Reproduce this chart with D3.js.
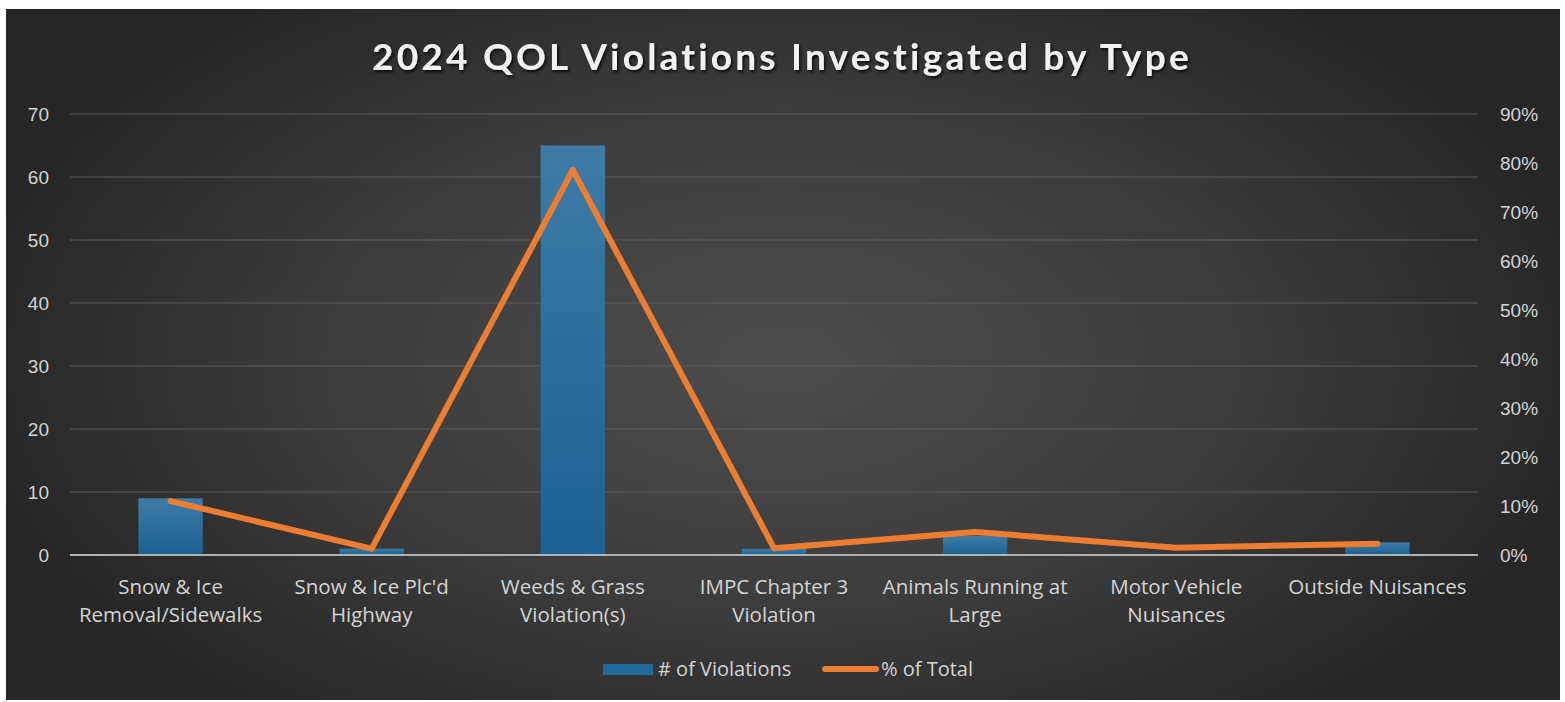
<!DOCTYPE html>
<html>
<head>
<meta charset="utf-8">
<script src="https://cdn.jsdelivr.net/npm/d3@7"></script>
<style>
  html, body { margin: 0; padding: 0; background: #ffffff; }
  svg { display: block; }
</style>
</head>
<body>
<svg id="chart" width="1565" height="702"></svg>
<script>
const categories = [
  "Snow & Ice Removal/Sidewalks",
  "Snow & Ice Plc'd Highway",
  "Weeds & Grass Violation(s)",
  "IMPC Chapter 3 Violation",
  "Animals Running at Large",
  "Motor Vehicle Nuisances",
  "Outside Nuisances"
];
const categoryLines = [
  ["Snow & Ice", "Removal/Sidewalks"],
  ["Snow & Ice Plc'd", "Highway"],
  ["Weeds & Grass", "Violation(s)"],
  ["IMPC Chapter 3", "Violation"],
  ["Animals Running at", "Large"],
  ["Motor Vehicle", "Nuisances"],
  ["Outside Nuisances"]
];
const violations = [9, 1, 65, 1, 3, 0, 2];
const pctOfTotal = [11.0, 1.3, 78.6, 1.4, 4.7, 1.5, 2.3];
const leftTicks = [0, 10, 20, 30, 40, 50, 60, 70];
const rightTicks = [0, 10, 20, 30, 40, 50, 60, 70, 80, 90];
const title = "2024 QOL Violations Investigated by Type";
const seriesNames = ["# of Violations", "% of Total"];

const svg = d3.select("#chart");
const defs = svg.append("defs");

const bg = defs.append("radialGradient").attr("id", "bgGrad")
  .attr("gradientUnits", "userSpaceOnUse")
  .attr("cx", 782).attr("cy", 360).attr("r", 820)
  .attr("gradientTransform", "translate(782,360) scale(1,0.55) translate(-782,-360)");
bg.append("stop").attr("offset", "0%").attr("stop-color", "#4d4d4d");
bg.append("stop").attr("offset", "55%").attr("stop-color", "#3c3c3c");
bg.append("stop").attr("offset", "100%").attr("stop-color", "#262626");

const barGrad = defs.append("linearGradient").attr("id", "barGrad")
  .attr("x1", 0).attr("y1", 0).attr("x2", 0).attr("y2", 1);
barGrad.append("stop").attr("offset", "0%").attr("stop-color", "#3f7ba6");
barGrad.append("stop").attr("offset", "100%").attr("stop-color", "#1a6291");

const shadow = defs.append("filter").attr("id", "tshadow")
  .attr("x", "-10%").attr("y", "-30%").attr("width", "120%").attr("height", "160%");
shadow.append("feDropShadow").attr("dx", 1.5).attr("dy", 2).attr("stdDeviation", 1.5)
  .attr("flood-color", "#000").attr("flood-opacity", 0.8);

svg.append("rect").attr("x", 6).attr("y", 9).attr("width", 1554).attr("height", 691)
  .attr("fill", "url(#bgGrad)");

const plot = { left: 70, right: 1478, top: 114, bottom: 555 };

const x = d3.scaleBand().domain(categories).range([plot.left, plot.right])
  .paddingInner(0.68).paddingOuter(0.34);
const yL = d3.scaleLinear().domain([0, 70]).range([plot.bottom, plot.top]);
const yR = d3.scaleLinear().domain([0, 90]).range([plot.bottom, plot.top]);

// gridlines
svg.append("g").selectAll("line").data(leftTicks.filter(d => d > 0)).join("line")
  .attr("x1", plot.left).attr("x2", plot.right)
  .attr("y1", d => yL(d)).attr("y2", d => yL(d))
  .attr("stroke", "#5c5c5c").attr("stroke-width", 1.2);

// left axis
const axL = svg.append("g").attr("transform", `translate(${plot.left},0)`)
  .call(d3.axisLeft(yL).tickValues(leftTicks).tickSize(0).tickPadding(21));
axL.select(".domain").remove();
axL.selectAll("text").attr("fill", "#d4d4d4").attr("font-size", 19)
  .attr("font-family", "'Liberation Sans', Arial, sans-serif");

// right axis
const axR = svg.append("g").attr("transform", `translate(${plot.right},0)`)
  .call(d3.axisRight(yR).tickValues(rightTicks).tickSize(0).tickPadding(22)
    .tickFormat(d => d + "%"));
axR.select(".domain").remove();
axR.selectAll("text").attr("fill", "#d4d4d4").attr("font-size", 19)
  .attr("font-family", "'Liberation Sans', Arial, sans-serif");

// bars
svg.append("g").selectAll("rect").data(categories).join("rect")
  .attr("x", d => x(d))
  .attr("width", x.bandwidth())
  .attr("y", (d, i) => yL(violations[i]))
  .attr("height", (d, i) => yL(0) - yL(violations[i]))
  .attr("fill", "url(#barGrad)");

// baseline
svg.append("line").attr("x1", plot.left).attr("x2", plot.right)
  .attr("y1", plot.bottom).attr("y2", plot.bottom)
  .attr("stroke", "#b0b0b0").attr("stroke-width", 2);

// line
const line = d3.line()
  .x((d, i) => x(categories[i]) + x.bandwidth() / 2)
  .y(d => yR(d));
svg.append("path").datum(pctOfTotal)
  .attr("d", line)
  .attr("fill", "none").attr("stroke", "#ED7D31").attr("stroke-width", 6)
  .attr("stroke-linejoin", "round").attr("stroke-linecap", "round");

// category labels
const catG = svg.append("g");
categories.forEach((c, i) => {
  const t = catG.append("text")
    .attr("x", x(c) + x.bandwidth() / 2)
    .attr("y", 594)
    .attr("text-anchor", "middle")
    .attr("fill", "#d4d4d4").attr("font-size", 20.5)
    .attr("font-family", "'Open Sans', 'Noto Sans', sans-serif");
  categoryLines[i].forEach((ln, j) => {
    t.append("tspan").attr("x", x(c) + x.bandwidth() / 2)
      .attr("dy", j === 0 ? 0 : 28).text(ln);
  });
});

// title
svg.append("text").attr("x", 782).attr("y", 70)
  .attr("text-anchor", "middle")
  .attr("fill", "#f2f2f2").attr("font-size", 37).attr("font-weight", "bold")
  .attr("letter-spacing", 3.2)
  .attr("font-family", "Lato, 'Noto Sans', sans-serif")
  .attr("filter", "url(#tshadow)")
  .text(title);

// legend
const lg = svg.append("g");
lg.append("rect").attr("x", 603).attr("y", 664).attr("width", 50).attr("height", 11)
  .attr("fill", "#1f6a9a");
lg.append("text").attr("x", 658).attr("y", 676)
  .attr("fill", "#d4d4d4").attr("font-size", 20)
  .attr("font-family", "'Open Sans', 'Noto Sans', sans-serif").text(seriesNames[0]);
lg.append("line").attr("x1", 825).attr("x2", 876).attr("y1", 669).attr("y2", 669)
  .attr("stroke", "#ED7D31").attr("stroke-width", 6).attr("stroke-linecap", "round");
lg.append("text").attr("x", 881).attr("y", 676)
  .attr("fill", "#d4d4d4").attr("font-size", 20)
  .attr("font-family", "'Open Sans', 'Noto Sans', sans-serif").text(seriesNames[1]);
</script>
</body>
</html>
